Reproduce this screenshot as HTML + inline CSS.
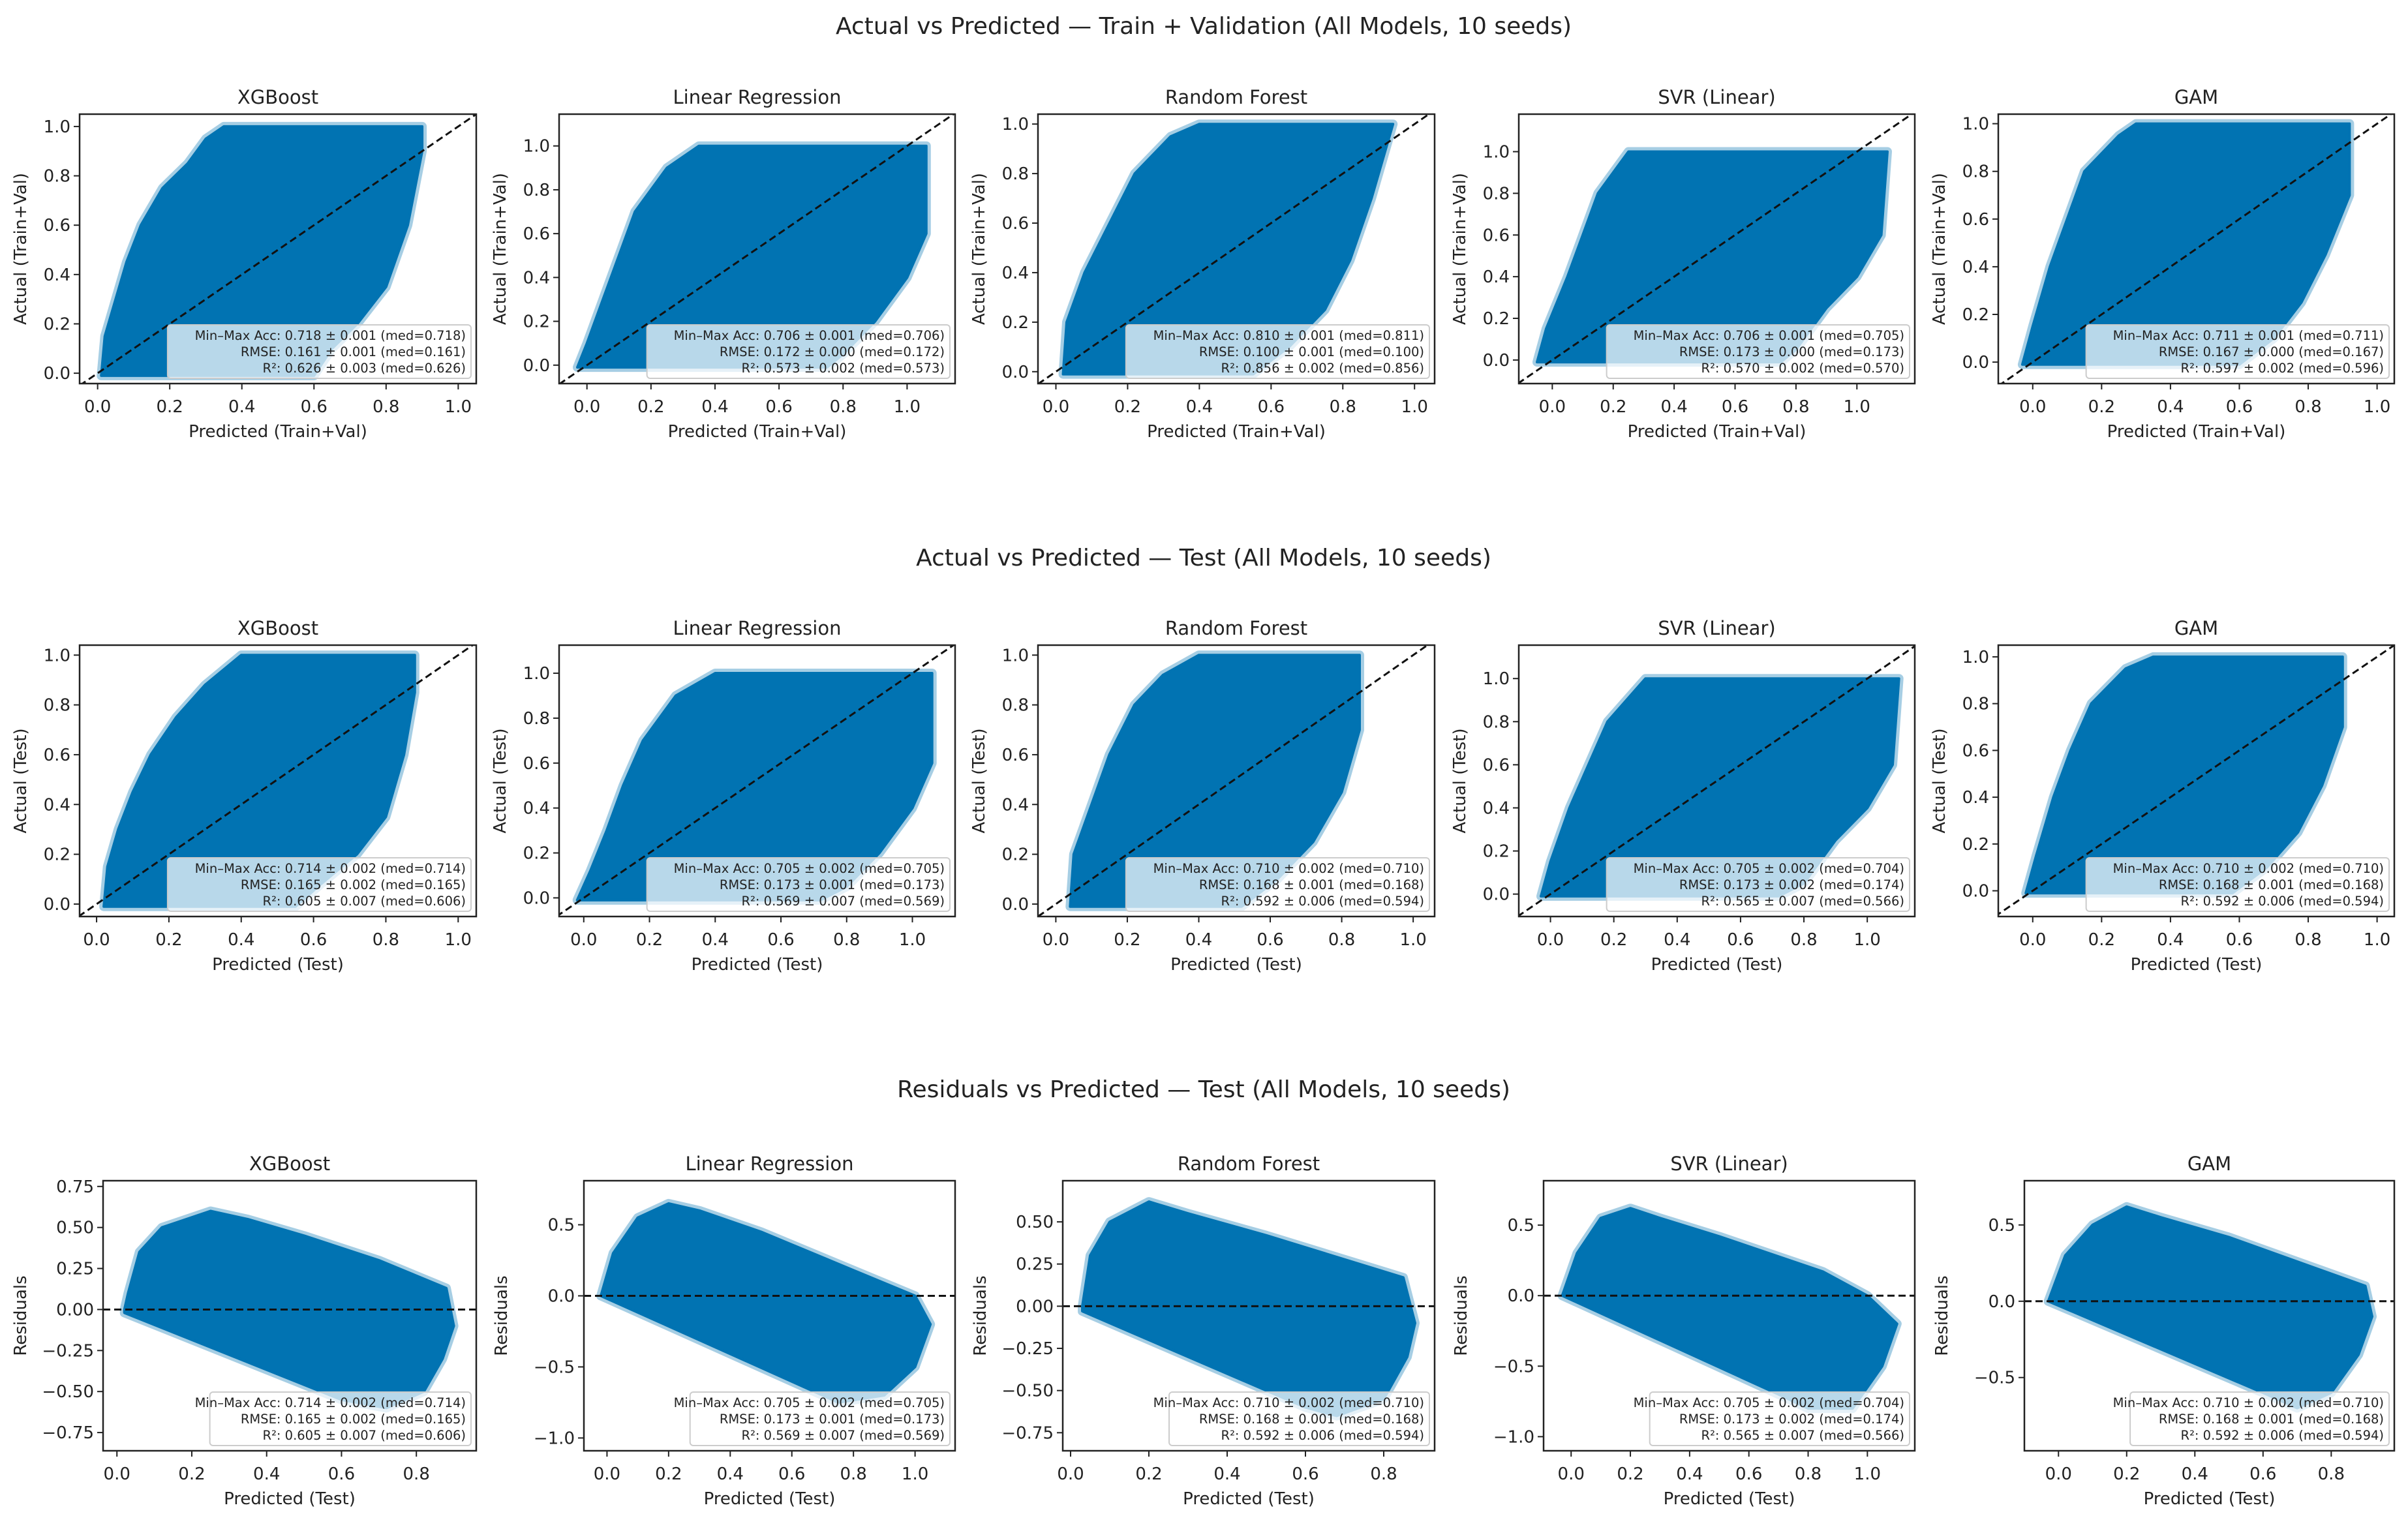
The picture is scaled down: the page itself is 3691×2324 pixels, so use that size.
<!DOCTYPE html>
<html><head><meta charset="utf-8">
<style>
html,body{margin:0;padding:0;background:#fff;}
svg{display:block;font-family:"DejaVu Sans","Liberation Sans",sans-serif;}
</style></head>
<body>
<svg id="fig" width="3691" height="2324" viewBox="0 0 3691 2324" xmlns="http://www.w3.org/2000/svg">
<rect width="3691" height="2324" fill="#fff"/>
<text x="1845" y="52" font-size="36" text-anchor="middle" fill="#222">Actual vs Predicted — Train + Validation (All Models, 10 seeds)</text>
<text x="1845" y="867" font-size="36" text-anchor="middle" fill="#222">Actual vs Predicted — Test (All Models, 10 seeds)</text>
<text x="1845" y="1682" font-size="36" text-anchor="middle" fill="#222">Residuals vs Predicted — Test (All Models, 10 seeds)</text>
</svg>
<script>
// ---- data: model names ----
const models = ["XGBoost","Linear Regression","Random Forest","SVR (Linear)","GAM"];
// ---- metrics text values ----
const accTrain = ["0.718 ± 0.001 (med=0.718)","0.706 ± 0.001 (med=0.706)","0.810 ± 0.001 (med=0.811)","0.706 ± 0.001 (med=0.705)","0.711 ± 0.001 (med=0.711)"];
const rmseTrain = ["0.161 ± 0.001 (med=0.161)","0.172 ± 0.000 (med=0.172)","0.100 ± 0.001 (med=0.100)","0.173 ± 0.000 (med=0.173)","0.167 ± 0.000 (med=0.167)"];
const r2Train = ["0.626 ± 0.003 (med=0.626)","0.573 ± 0.002 (med=0.573)","0.856 ± 0.002 (med=0.856)","0.570 ± 0.002 (med=0.570)","0.597 ± 0.002 (med=0.596)"];
const accTest = ["0.714 ± 0.002 (med=0.714)","0.705 ± 0.002 (med=0.705)","0.710 ± 0.002 (med=0.710)","0.705 ± 0.002 (med=0.704)","0.710 ± 0.002 (med=0.710)"];
const rmseTest = ["0.165 ± 0.002 (med=0.165)","0.173 ± 0.001 (med=0.173)","0.168 ± 0.001 (med=0.168)","0.173 ± 0.002 (med=0.174)","0.168 ± 0.001 (med=0.168)"];
const r2Test = ["0.605 ± 0.007 (med=0.606)","0.569 ± 0.007 (med=0.569)","0.592 ± 0.006 (med=0.594)","0.565 ± 0.007 (med=0.566)","0.592 ± 0.006 (med=0.594)"];
// ---- tick labels ----
const ticksUnit = [0,0.2,0.4,0.6,0.8,1.0];
const ticksUnitShort = [0,0.2,0.4,0.6,0.8];
const resTicksXGB = [-0.75,-0.5,-0.25,0,0.25,0.5,0.75];
const resTicksLR = [-1.0,-0.5,0,0.5];
const resTicksRF = [-0.75,-0.5,-0.25,0,0.25,0.5];
const resTicksGAM = [-0.5,0,0.5];
// ---- point-cloud envelopes (predicted, actual) row 1 ----
const xgbTrainX = [0.01,0.02,0.05,0.08,0.12,0.18,0.25,0.3,0.35,0.9,0.9,0.86,0.8,0.72,0.65,0.6];
const xgbTrainY = [-0.01,0.15,0.3,0.45,0.6,0.75,0.85,0.95,1.0,1.0,0.9,0.6,0.35,0.2,0.1,-0.01];
const lrTrainX = [-0.03,0.0,0.05,0.1,0.15,0.25,0.35,1.06,1.06,1.0,0.9,0.8,0.75];
const lrTrainY = [-0.01,0.1,0.3,0.5,0.7,0.9,1.0,1.0,0.6,0.4,0.2,0.05,-0.01];
const rfTrainX = [0.02,0.03,0.08,0.15,0.22,0.32,0.4,0.94,0.88,0.82,0.75,0.65,0.55];
const rfTrainY = [-0.01,0.2,0.4,0.6,0.8,0.95,1.0,1.0,0.7,0.45,0.25,0.1,-0.01];
const svrTrainX = [-0.05,-0.02,0.05,0.1,0.15,0.25,1.1,1.08,1.0,0.9,0.8,0.75];
const svrTrainY = [-0.01,0.15,0.4,0.6,0.8,1.0,1.0,0.6,0.4,0.25,0.05,-0.01];
const gamTrainX = [-0.03,0.0,0.05,0.1,0.15,0.25,0.3,0.92,0.92,0.85,0.78,0.7,0.6];
const gamTrainY = [-0.01,0.15,0.4,0.6,0.8,0.95,1.0,1.0,0.7,0.45,0.25,0.1,-0.01];
// ---- row 2 ----
const xgbTestX = [0.02,0.03,0.06,0.1,0.15,0.22,0.3,0.4,0.88,0.88,0.85,0.8,0.72,0.62,0.55];
const xgbTestY = [-0.01,0.15,0.3,0.45,0.6,0.75,0.88,1.0,1.0,0.85,0.6,0.35,0.2,0.08,-0.01];
const lrTestX = [-0.02,0.02,0.07,0.12,0.18,0.28,0.4,1.06,1.06,1.0,0.9,0.8,0.72];
const lrTestY = [-0.01,0.12,0.3,0.5,0.7,0.9,1.0,1.0,0.6,0.4,0.2,0.05,-0.01];
const rfTestX = [0.04,0.05,0.1,0.15,0.22,0.3,0.4,0.85,0.85,0.8,0.72,0.62,0.52];
const rfTestY = [-0.01,0.2,0.4,0.6,0.8,0.92,1.0,1.0,0.7,0.45,0.25,0.1,-0.01];
const svrTestX = [-0.03,0.0,0.06,0.12,0.18,0.3,1.1,1.08,1.0,0.9,0.8,0.72];
const svrTestY = [-0.01,0.15,0.4,0.6,0.8,1.0,1.0,0.6,0.4,0.25,0.05,-0.01];
const gamTestX = [-0.02,0.01,0.06,0.11,0.17,0.27,0.35,0.9,0.9,0.84,0.77,0.68,0.58];
const gamTestY = [-0.01,0.15,0.4,0.6,0.8,0.95,1.0,1.0,0.7,0.45,0.25,0.1,-0.01];
// ---- row 3 residual envelopes (predicted, residual) ----
const xgbResX = [0.02,0.03,0.06,0.12,0.25,0.35,0.5,0.7,0.88,0.9,0.87,0.82,0.72,0.6,0.02];
const xgbResY = [0,0.1,0.35,0.5,0.6,0.55,0.45,0.3,0.13,-0.1,-0.3,-0.5,-0.6,-0.55,-0.02];
const lrResX = [-0.02,0.02,0.1,0.2,0.3,0.5,0.8,1.0,1.05,1.0,0.9,0.75,0.7,-0.02];
const lrResY = [0,0.3,0.55,0.65,0.6,0.45,0.18,0,-0.2,-0.5,-0.7,-0.75,-0.7,0];
const rfResX = [0.03,0.05,0.1,0.2,0.3,0.5,0.85,0.88,0.86,0.8,0.68,0.6,0.03];
const rfResY = [0,0.3,0.5,0.62,0.55,0.42,0.17,-0.1,-0.3,-0.55,-0.65,-0.6,-0.03];
const svrResX = [-0.03,0.02,0.1,0.2,0.3,0.5,0.85,1.0,1.1,1.05,0.95,0.8,0.7,-0.03];
const svrResY = [0,0.3,0.55,0.62,0.55,0.42,0.17,0,-0.2,-0.5,-0.8,-0.8,-0.7,0];
const gamResX = [-0.03,0.02,0.1,0.2,0.3,0.5,0.9,0.92,0.88,0.8,0.7,0.6,-0.03];
const gamResY = [0,0.3,0.5,0.62,0.55,0.42,0.1,-0.1,-0.35,-0.6,-0.7,-0.6,0];

const NS = "http://www.w3.org/2000/svg";
const svg = document.getElementById("fig");
const BLUE = "#0173b2";
function mk(tag, attrs, parent){
  const e = document.createElementNS(NS, tag);
  for (const k in attrs) e.setAttribute(k, attrs[k]);
  (parent||svg).appendChild(e);
  return e;
}
function fmt(v, dec){ const s = Math.abs(v).toFixed(dec); return (v < -1e-9 ? "\u2212" : "") + s; }

const colLeft = [122,857,1591,2328,3063];
const colRight = [730,1464,2199,2935,3670];
const resLeft = [158,895,1629,2366,3103];
const rows = [
  {top:175,bottom:588,xlab:"Predicted (Train+Val)",ylab:"Actual (Train+Val)",kind:"ap",
   xs:[xgbTrainX,lrTrainX,rfTrainX,svrTrainX,gamTrainX], ys:[xgbTrainY,lrTrainY,rfTrainY,svrTrainY,gamTrainY],
   xl:[[-0.05,1.05],[-0.087,1.15],[-0.05,1.056],[-0.11,1.19],[-0.1,1.05]],
   yl:[[-0.042,1.05],[-0.084,1.145],[-0.048,1.04],[-0.113,1.18],[-0.09,1.04]],
   acc:accTrain, rmse:rmseTrain, r2:r2Train},
  {top:989,bottom:1405,xlab:"Predicted (Test)",ylab:"Actual (Test)",kind:"ap",
   xs:[xgbTestX,lrTestX,rfTestX,svrTestX,gamTestX], ys:[xgbTestY,lrTestY,rfTestY,svrTestY,gamTestY],
   xl:[[-0.047,1.05],[-0.075,1.13],[-0.05,1.06],[-0.1,1.15],[-0.1,1.05]],
   yl:[[-0.05,1.04],[-0.083,1.125],[-0.05,1.04],[-0.104,1.155],[-0.11,1.05]],
   acc:accTest, rmse:rmseTest, r2:r2Test},
  {top:1810,bottom:2224,xlab:"Predicted (Test)",ylab:"Residuals",kind:"res",
   xs:[xgbResX,lrResX,rfResX,svrResX,gamResX], ys:[xgbResY,lrResY,rfResY,svrResY,gamResY],
   xl:[[-0.037,0.96],[-0.075,1.13],[-0.02,0.93],[-0.093,1.16],[-0.1,0.985]],
   yl:[[-0.861,0.785],[-1.09,0.81],[-0.857,0.744],[-1.10,0.815],[-0.98,0.79]],
   acc:accTest, rmse:rmseTest, r2:r2Test}
];
const resYTicks = [resTicksXGB,resTicksLR,resTicksRF,resTicksLR,resTicksGAM];
const resXTicks = [ticksUnitShort,ticksUnit,ticksUnitShort,ticksUnit,ticksUnitShort];

rows.forEach((row, ri) => {
  for (let c = 0; c < 5; c++){
    const L = row.kind === "res" ? resLeft[c] : colLeft[c];
    const R = colRight[c], T = row.top, B = row.bottom;
    const [x0,x1] = row.xl[c], [y0,y1] = row.yl[c];
    const sx = v => L + (v - x0) / (x1 - x0) * (R - L);
    const sy = v => B - (v - y0) / (y1 - y0) * (B - T);
    const g = mk("g", {});
    
    
    const clipId = "clip" + ri + "_" + c;
    const cp = mk("clipPath", {id: clipId}, g);
    mk("rect", {x:L, y:T, width:R-L, height:B-T}, cp);
    const xs = row.xs[c], ys = row.ys[c];
    const pts = xs.map((v,i) => sx(v).toFixed(1) + "," + sy(ys[i]).toFixed(1)).join(" ");
    const halo = mk("polygon", {points: pts, fill: BLUE, stroke: BLUE, "stroke-opacity":0.35, "stroke-width": 14, "stroke-linejoin":"round", "clip-path": "url(#"+clipId+")"}, g);
    
    
    const poly = mk("polygon", {points: pts, fill: BLUE, stroke: BLUE, "stroke-width": 4, "stroke-linejoin":"round", "clip-path": "url(#"+clipId+")"}, g);
    
    
    let ln;
    if (row.kind === "ap"){
      const lo = Math.min(x0,y0), hi = Math.max(x1,y1);
      ln = mk("line", {x1:sx(lo), y1:sy(lo), x2:sx(hi), y2:sy(hi), stroke:"#111", "stroke-width":3, "stroke-dasharray":"11,6", "clip-path":"url(#"+clipId+")"}, g);
      
    } else {
      ln = mk("line", {x1:L, y1:sy(0), x2:R, y2:sy(0), stroke:"#111", "stroke-width":3, "stroke-dasharray":"11,6"}, g);
      
    }
    
    const xt = row.kind === "res" ? resXTicks[c] : ticksUnit;
    const yt = row.kind === "res" ? resYTicks[c] : ticksUnit;
    const ydec = (row.kind === "res" && (c === 0 || c === 2)) ? 2 : 1;
    xt.forEach(v => {
      mk("line", {x1:sx(v), y1:B, x2:sx(v), y2:B+9, stroke:"#222", "stroke-width":2}, g);
      const t = mk("text", {x:sx(v), y:B+44, "font-size":26, "text-anchor":"middle", fill:"#222"}, g);
      t.textContent = fmt(v,1);
      
      
    });
    yt.forEach(v => {
      mk("line", {x1:L-9, y1:sy(v), x2:L, y2:sy(v), stroke:"#222", "stroke-width":2}, g);
      const t = mk("text", {x:L-14, y:sy(v)+9, "font-size":26, "text-anchor":"end", fill:"#222"}, g);
      t.textContent = fmt(v,ydec);
      
      
    });
    const fr = mk("rect", {x:L, y:T, width:R-L, height:B-T, fill:"none", stroke:"#222", "stroke-width":2.5}, g);
    
    
    const tt = mk("text", {x:(L+R)/2, y:T-16, "font-size":29, "text-anchor":"middle", fill:"#222"}, g);
    tt.textContent = models[c];
    
    
    const xlab = mk("text", {x:(L+R)/2, y:B+82, "font-size":26, "text-anchor":"middle", fill:"#222"}, g);
    xlab.textContent = row.xlab;
    
    
    const ylx = row.kind === "res" ? L-118 : L-82;
    const ylab = mk("text", {x:ylx, y:(T+B)/2, "font-size":26, "text-anchor":"middle", fill:"#222", transform:"rotate(-90 "+ylx+" "+(T+B)/2+")"}, g);
    ylab.textContent = row.ylab;
    
    
    const lw = row.kind === "res" ? (R-L)*0.70 : (R-L)*0.765;
    const lx = R - 8 - lw, lh = 82, ly = B - 8 - lh;
    const lg = mk("g", {}, g);
    
    
    mk("rect", {x:lx, y:ly, width:lw, height:lh, rx:5, fill:"#fff", "fill-opacity":0.72, stroke:"#ccc", "stroke-width":2}, lg);
    const lines = ["Min\u2013Max Acc: " + row.acc[c], "RMSE: " + row.rmse[c], "R\u00b2: " + row.r2[c]];
    lines.forEach((s,i) => {
      const t = mk("text", {x:R-16, y:ly+23+i*25, "font-size":19.5, "text-anchor":"end", fill:"#222"}, lg);
      t.textContent = s;
      
      
    });
  }
});
</script>
</body></html>
